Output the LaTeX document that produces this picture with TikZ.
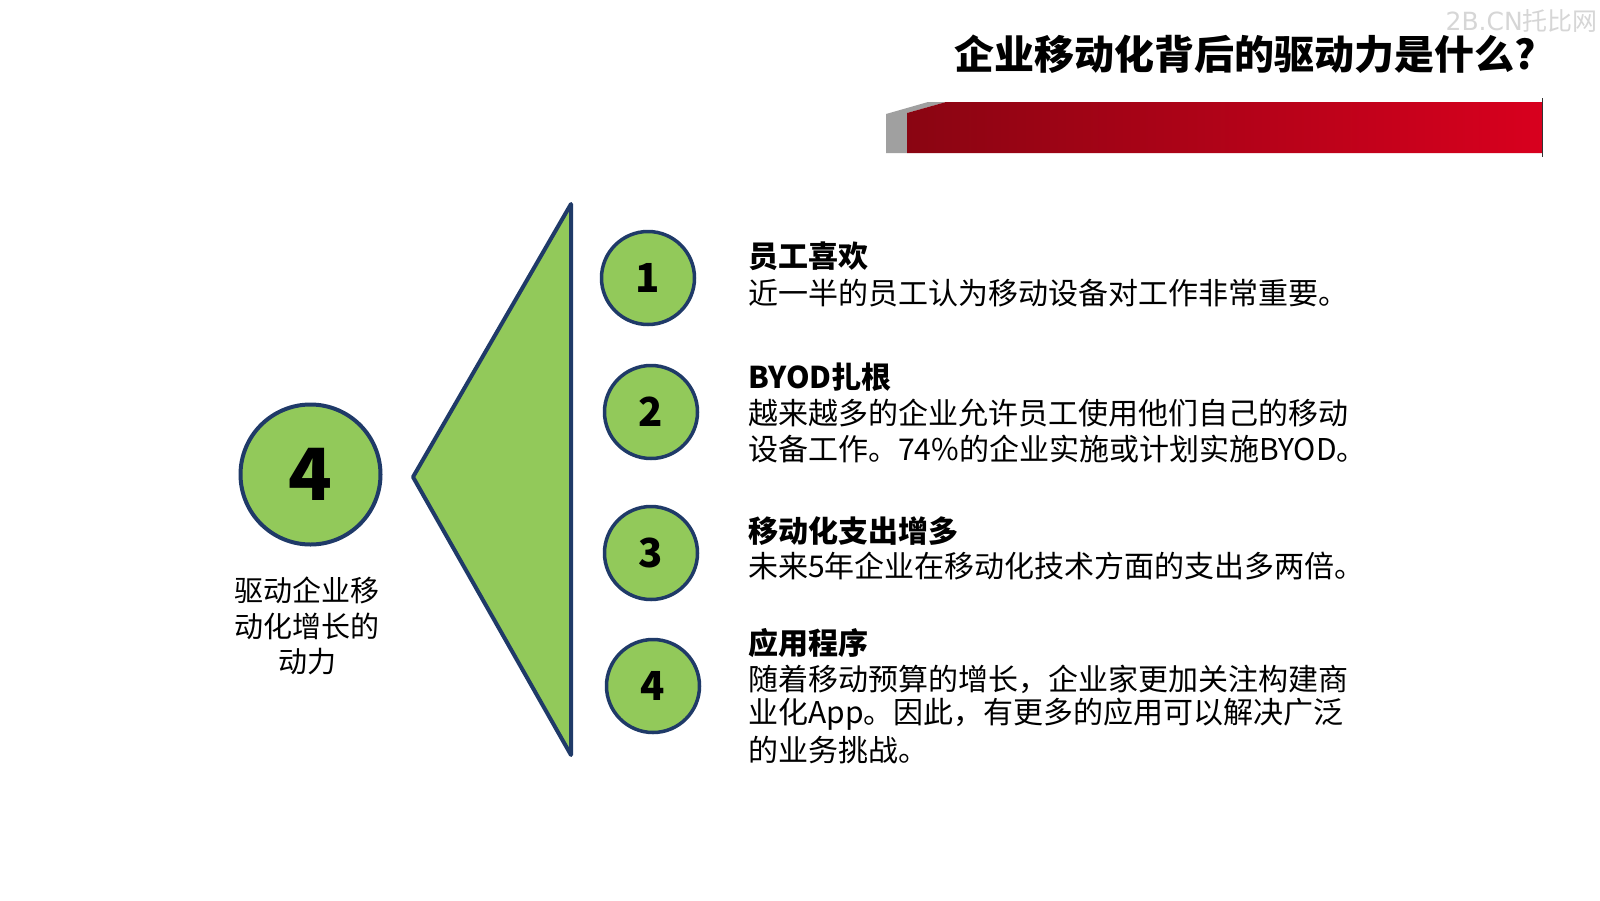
\documentclass[tikz,border=0pt]{standalone}
\usepackage{fontspec}
\setmainfont{Noto Sans CJK SC}
\newfontfamily\wmfont{DejaVu Sans}
\definecolor{leafgreen}{HTML}{92C95A}
\definecolor{navyline}{HTML}{1F3A68}
\definecolor{bardark}{HTML}{8A0512}
\definecolor{barlight}{HTML}{D8001E}
\definecolor{bargray}{HTML}{A0A0A0}
\tikzset{
  bigdot/.style={circle, fill=leafgreen, draw=navyline, line width=4pt, minimum size=140pt, inner sep=0pt, font=\fontsize{72}{72}\selectfont\bfseries},
  numdot/.style={circle, fill=leafgreen, draw=navyline, line width=3.5pt, minimum size=93pt, inner sep=0pt, font=\fontsize{40}{40}\selectfont\bfseries},
  headtext/.style={anchor=west, inner sep=0pt, font=\fontsize{30}{35}\selectfont\bfseries},
  bodytext/.style={anchor=west, inner sep=0pt, font=\fontsize{30}{35}\selectfont},
  lefttext/.style={align=center, inner sep=0pt, font=\fontsize{29}{35.5}\selectfont},
}
\begin{document}
\begin{tikzpicture}[x=1pt,y=-1pt]
\useasboundingbox (0,0) rectangle (1600,900);
\fill[white] (0,0) rectangle (1600,900);
% watermark
\node[anchor=north east, inner sep=0pt, text=black!16, font=\fontsize{25}{25}\selectfont] (wm) at (1598,9) {{\wmfont 2B.CN}托比网};
% title
\node[anchor=east, inner sep=0pt, font=\fontsize{40}{44}\selectfont\bfseries] (title) at (1536,54) {企业移动化背后的驱动力是什么?};
% title bar
\fill[bargray] (886,153) -- (886,114) -- (928,102) -- (946,102) -- (907,113) -- (907,153) -- cycle;
\shade[left color=bardark, right color=barlight] (907,153) -- (907,113) -- (946,102) -- (1542,102) -- (1542,153) -- cycle;
\draw[black!80, line width=1pt] (1542,98) -- (1542,157);
% triangle
\coordinate (tipL) at (413,477);
\coordinate (tipT) at (571,204);
\coordinate (tipB) at (571,755);
\filldraw[fill=leafgreen, draw=navyline, line width=4pt, line join=round] (tipL) -- (tipT) -- (tipB) -- cycle;
% big circle
\node[bigdot] (big) at (310.5,474.5) {4};
\node[lefttext] (bigtxt) at (307,626) {驱动企业移\\动化增长的\\动力};
% small circles
\node[numdot] (c1) at (648,278) {1};
\node[numdot] (c2) at (651,412) {2};
\node[numdot] (c3) at (651,553) {3};
\node[numdot] (c4) at (653,686) {4};
% texts
\node[headtext] (h1) at (748,256) {员工喜欢};
\node[bodytext] (b1) at (748,293) {近一半的员工认为移动设备对工作非常重要。};
\node[headtext] (h2) at (748,377) {BYOD扎根};
\node[bodytext] (b2a) at (748,413) {越来越多的企业允许员工使用他们自己的移动};
\node[bodytext] (b2b) at (748,449) {设备工作。74\%的企业实施或计划实施BYOD。};
\node[headtext] (h3) at (748,531) {移动化支出增多};
\node[bodytext] (b3) at (748,566) {未来5年企业在移动化技术方面的支出多两倍。};
\node[headtext] (h4) at (748,643) {应用程序};
\node[bodytext] (b4a) at (748,679) {随着移动预算的增长，企业家更加关注构建商};
\node[bodytext] (b4b) at (748,714) {业化App。因此，有更多的应用可以解决广泛};
\node[bodytext] (b4c) at (748,750) {的业务挑战。};
\end{tikzpicture}
\end{document}
